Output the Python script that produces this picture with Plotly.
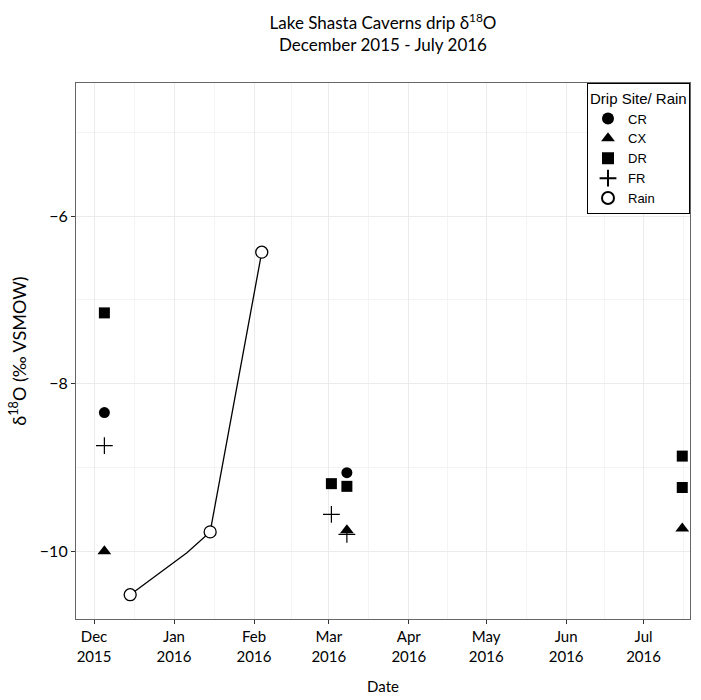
import plotly.graph_objects as go
import pandas as pd

# ---- data ----
cr_dates = ["2015-12-05", "2016-03-08"]
cr_vals = [-8.345, -9.063]

cx_dates = ["2015-12-05", "2016-03-08", "2016-07-16"]
cx_vals = [-10.0, -9.75, -9.73]

dr_dates = ["2015-12-05", "2016-03-02", "2016-03-08", "2016-07-16", "2016-07-16"]
dr_vals = [-7.155, -9.194, -9.226, -8.865, -9.24]

fr_dates = ["2015-12-05", "2016-03-02", "2016-03-08"]
fr_vals = [-8.74, -9.56, -9.80]

rain_dates = ["2015-12-15", "2016-01-15", "2016-02-04"]
rain_vals = [-10.52, -9.77, -6.43]

rain_line_dates = ["2015-12-15", "2016-01-06", "2016-01-15", "2016-02-04"]
rain_line_vals = [-10.52, -10.02, -9.77, -6.43]

month_ticks = pd.date_range("2015-12-01", "2016-07-01", freq="MS")
tick_text = [d.strftime("%b") + "<br>" + d.strftime("%Y") for d in month_ticks]
month_all = pd.date_range("2015-11-01", "2016-08-01", freq="MS")
minor_x = [month_all[i] + (month_all[i + 1] - month_all[i]) / 2 for i in range(len(month_all) - 1)]

FONT = "Lato"
fig = go.Figure()

fig.add_trace(go.Scatter(x=rain_line_dates, y=rain_line_vals, mode="lines",
                         line=dict(color="black", width=1.3), showlegend=False, hoverinfo="skip"))

fig.add_trace(go.Scatter(x=cr_dates, y=cr_vals, mode="markers", name="CR",
                         marker=dict(symbol="circle", size=11, color="black")))
fig.add_trace(go.Scatter(x=cx_dates, y=cx_vals, mode="markers", name="CX",
                         marker=dict(symbol="triangle-up", size=12, color="black")))
fig.add_trace(go.Scatter(x=dr_dates, y=dr_vals, mode="markers", name="DR",
                         marker=dict(symbol="square", size=11, color="black")))
fig.add_trace(go.Scatter(x=fr_dates, y=fr_vals, mode="markers", name="FR",
                         marker=dict(symbol="cross-thin", size=12, color="black",
                                     line=dict(color="black", width=1.2))))
fig.add_trace(go.Scatter(x=rain_dates, y=rain_vals, mode="markers", name="Rain",
                         marker=dict(symbol="circle", size=12, color="white",
                                     line=dict(color="black", width=1.3))))

fig.update_layout(
    width=701, height=700,
    margin=dict(l=76, r=11, t=83, b=81),
    paper_bgcolor="white", plot_bgcolor="white",
    font=dict(family=FONT, size=15, color="black"),
    title=dict(text="Lake Shasta Caverns drip δ<sup>18</sup>O<br>December 2015 - July 2016",
               x=(76 + 690) / 2 / 701, xanchor="center",
               y=1 - 29 / 700, yanchor="middle",
               font=dict(family=FONT, size=17, color="black")),
    legend=dict(x=1, xanchor="right", y=1, yanchor="top",
                bordercolor="black", borderwidth=1, bgcolor="white",
                title=dict(text="Drip Site/ Rain", font=dict(family="Liberation Sans", size=15)),
                font=dict(family="Liberation Sans", size=13),
                itemsizing="constant", tracegroupgap=0),
    showlegend=True,
)

fig.update_xaxes(
    type="date",
    range=["2015-11-24", "2016-07-19"],
    tickmode="array", tickvals=list(month_ticks), ticktext=tick_text,
    ticks="outside", ticklen=4, tickcolor="#333", tickfont=dict(family=FONT, size=15),
    showgrid=True, gridcolor="#EBEBEB", gridwidth=1,
    minor=dict(tickmode="array", tickvals=minor_x, showgrid=True, gridcolor="#F4F4F4", ticks=""),
    showline=True, mirror=True, linecolor="#666", linewidth=1.2,
    zeroline=False, automargin=False,
    title=dict(text="Date", font=dict(family=FONT, size=15), standoff=17),
)
fig.update_yaxes(
    range=[-10.81, -4.41],
    tickmode="array", tickvals=[-10, -8, -6], ticktext=["\u221210", "\u22128", "\u22126"],
    ticks="outside", ticklen=4, tickcolor="#333", tickfont=dict(family=FONT, size=16),
    showgrid=True, gridcolor="#EBEBEB", gridwidth=1,
    minor=dict(tickmode="array", tickvals=[-11, -9, -7, -5], showgrid=True, gridcolor="#F4F4F4", ticks=""),
    showline=True, mirror=True, linecolor="#666", linewidth=1.2,
    zeroline=False,
    title=dict(text="δ<sup>18</sup>O (‰ VSMOW)", font=dict(family=FONT, size=18), standoff=8),
)

fig.write_html("out.html")
